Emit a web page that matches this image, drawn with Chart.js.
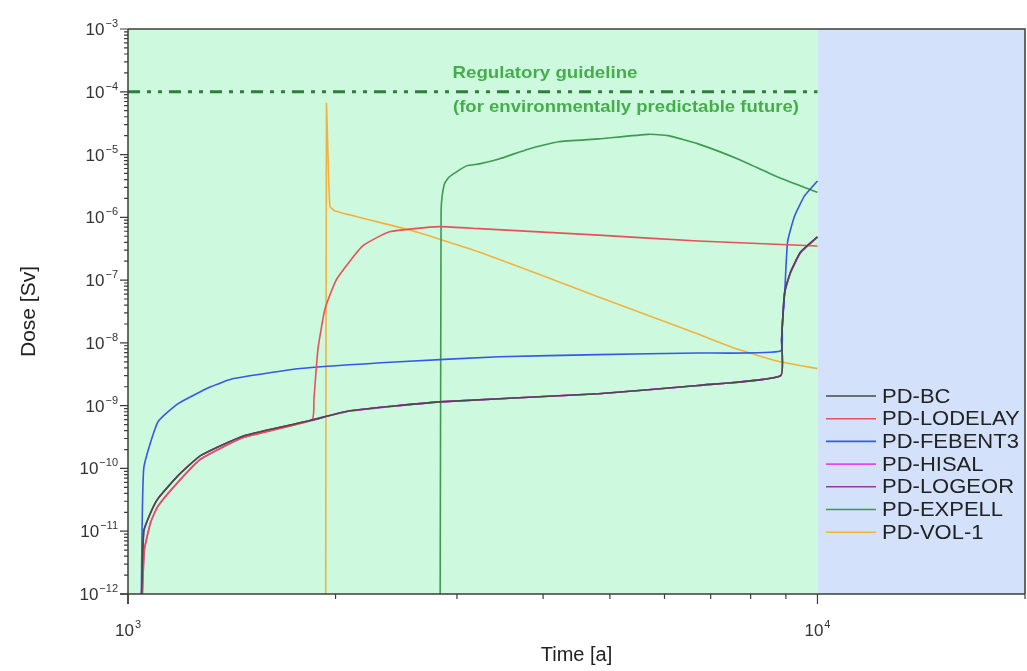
<!DOCTYPE html>
<html>
<head>
<meta charset="utf-8">
<script src="https://cdn.jsdelivr.net/npm/chart.js@4/dist/chart.umd.min.js"></script>
<style>
  html, body { margin: 0; padding: 0; background: #fff; }
  #wrap { width: 1027px; height: 671px; }
</style>
</head>
<body>
<div id="wrap"><canvas id="doseChart" width="1027" height="671"></canvas></div>
<script>
// Dose curves (time in years, dose in Sv)
const bcTime = [1045, 1054, 1079, 1105, 1181, 1274, 1470, 1837, 2098, 2830, 4814, 6711, 8843, 8872, 8965, 9142, 9452, 10000];
const bcDose = [5e-13, 1e-11, 2e-11, 3.3e-11, 7.6e-11, 1.6e-10, 3.3e-10, 5.8e-10, 8.3e-10, 1.15e-9, 1.55e-9, 2.1e-9, 3e-9, 1.15e-8, 6.5e-8, 1.35e-7, 2.8e-7, 4.9e-7];

const lodelayTime = [1047, 1056, 1079, 1105, 1181, 1274, 1470, 1849, 1861, 1886, 1931, 2009, 2190, 2396, 2829, 3232, 4814, 6711, 10000];
const lodelayDose = [5e-13, 5e-12, 1.4e-11, 2.5e-11, 6e-11, 1.4e-10, 3.1e-10, 6e-10, 1.3e-9, 8e-9, 3.5e-8, 1.05e-7, 3.5e-7, 5.9e-7, 7.1e-7, 6.6e-7, 5.2e-7, 4.2e-7, 3.5e-7];

const febent3Time = [1045, 1054, 1105, 1181, 1318, 1422, 1777, 2477, 3452, 4814, 6711, 8843, 8890, 8965, 9051, 9265, 9577, 10000];
const febent3Dose = [5e-13, 1e-10, 5.5e-10, 1.07e-9, 2e-9, 2.7e-9, 3.9e-9, 5e-9, 6e-9, 6.5e-9, 6.9e-9, 7.4e-9, 1.8e-8, 6.5e-8, 4.1e-7, 1.05e-6, 2.2e-6, 3.8e-6];

const hisalTime = [1047, 1056, 1079, 1105, 1181, 1274, 1470, 1837, 2098, 2830, 4814, 6711, 8843, 8872, 8965, 9142, 9452, 10000];
const hisalDose = [5e-13, 5e-12, 1.4e-11, 2.5e-11, 6e-11, 1.4e-10, 3.1e-10, 5.7e-10, 8.2e-10, 1.15e-9, 1.55e-9, 2.1e-9, 3e-9, 1.1e-8, 6.3e-8, 1.3e-7, 2.7e-7, 4.8e-7];

const logeorTime = [1045, 1054, 1079, 1105, 1181, 1274, 1470, 1837, 2098, 2830, 4814, 6711, 8843, 8872, 8965, 9142, 9452, 10000];
const logeorDose = [5e-13, 1e-11, 2e-11, 3.3e-11, 7.6e-11, 1.6e-10, 3.3e-10, 5.8e-10, 8.3e-10, 1.15e-9, 1.55e-9, 2.1e-9, 3e-9, 1.15e-8, 6.5e-8, 1.35e-7, 2.8e-7, 4.9e-7];

const expellTime = [2835, 2845, 2850, 2877, 2924, 3095, 3232, 3452, 3815, 4215, 4814, 5684, 6074, 6711, 7667, 8755, 10000];
const expellDose = [1e-13, 1e-6, 1.8e-6, 3.4e-6, 4.4e-6, 6.6e-6, 7.1e-6, 8.5e-6, 1.23e-5, 1.6e-5, 1.78e-5, 2.1e-5, 2.0e-5, 1.48e-5, 8.5e-6, 4.4e-6, 2.5e-6];

const vol1Time = [1935, 1940, 1950, 1963, 1996, 2586, 3232, 4814, 6711, 7667, 8755, 10000];
const vol1Dose = [1e-13, 6.4e-5, 1e-5, 1.5e-6, 1.26e-6, 6.1e-7, 2.8e-7, 5.4e-8, 1.38e-8, 7.9e-9, 5.1e-9, 3.9e-9];

// regulatory guideline
const guideTime = [1000, 10000];
const guideDose = [1e-4, 1e-4];

const seriesNames = ['PD-BC', 'PD-LODELAY', 'PD-FEBENT3', 'PD-HISAL', 'PD-LOGEOR', 'PD-EXPELL', 'PD-VOL-1'];
const seriesColors = ['#4a4a4a', '#e8505a', '#3658e6', '#e448ee', '#8c3c9c', '#3f9a4f', '#f2b23e'];

// axis ticks: every 1..9 x 10^n
const yTickValues = [];
for (let e = -12; e <= -3; e++) {
  for (let m = 1; m <= 9; m++) {
    if (e === -3 && m > 1) break;
    yTickValues.push(m * Math.pow(10, e));
  }
}
const xTickValues = [1000, 2000, 3000, 4000, 5000, 6000, 7000, 8000, 9000, 10000, 20000];

// exponent of a power of ten, or null
function powExp(v) {
  const e = Math.log10(v);
  return Math.abs(e - Math.round(e)) < 1e-9 ? Math.round(e) : null;
}

function toPoints(t, d) {
  return t.map((x, i) => ({ x: x, y: d[i] }));
}

const FONT = '"Liberation Sans", Arial, sans-serif';

// green / blue background bands
const bandsPlugin = {
  id: 'bands',
  beforeDatasetsDraw(chart) {
    const { ctx, chartArea, scales } = chart;
    const x0 = scales.x.getPixelForValue(1000);
    const x1 = scales.x.getPixelForValue(10000);
    ctx.save();
    ctx.fillStyle = 'rgb(205,250,222)';
    ctx.fillRect(x0, chartArea.top, x1 - x0, chartArea.bottom - chartArea.top);
    ctx.fillStyle = 'rgb(211,226,250)';
    ctx.fillRect(x1, chartArea.top, chartArea.right - x1, chartArea.bottom - chartArea.top);
    ctx.restore();
  }
};

// draws "10" with a raised exponent; anchor is right edge (y axis) or centre (x axis)
function drawPow(ctx, exp, x, y, align) {
  const base = '10';
  const sup = String(exp).replace('-', '\u2212');
  ctx.font = '17px ' + FONT;
  const wb = ctx.measureText(base).width;
  ctx.font = '11px ' + FONT;
  const ws = ctx.measureText(sup).width;
  const left = align === 'right' ? x - wb - ws - 1 : x - (wb + ws + 1) / 2;
  ctx.textAlign = 'left';
  ctx.textBaseline = 'alphabetic';
  ctx.font = '17px ' + FONT;
  ctx.fillText(base, left, y + 6);
  ctx.font = '11px ' + FONT;
  ctx.fillText(sup, left + wb + 1, y - 2);
}

// text stretched a little in x, as in the original figure
function wideText(ctx, text, x, y, sx) {
  ctx.save();
  ctx.translate(x, y);
  ctx.scale(sx, 1);
  ctx.fillText(text, 0, 0);
  ctx.restore();
}

// frame, tick marks, tick labels, guideline text and legend
const decorPlugin = {
  id: 'decor',
  afterDraw(chart) {
    const { ctx, chartArea, scales } = chart;
    const { left, right, top, bottom } = chartArea;
    ctx.save();
    ctx.strokeStyle = '#3a3f3a';
    ctx.lineWidth = 1.5;
    ctx.beginPath();
    ctx.moveTo(left, top); ctx.lineTo(right, top); ctx.lineTo(right, bottom);
    ctx.moveTo(left, top); ctx.lineTo(left, bottom + 10);
    ctx.moveTo(left - 8, bottom); ctx.lineTo(right, bottom);
    ctx.stroke();

    ctx.lineWidth = 1.2;
    ctx.beginPath();
    yTickValues.forEach(v => {
      const y = scales.y.getPixelForValue(v);
      const len = powExp(v) !== null ? 8 : 4;
      ctx.moveTo(left - len, y); ctx.lineTo(left, y);
    });
    xTickValues.forEach(v => {
      const x = scales.x.getPixelForValue(v);
      const len = powExp(v) !== null && v < 20000 ? 10 : 5;
      ctx.moveTo(x, bottom); ctx.lineTo(x, bottom + len);
    });
    ctx.stroke();

    // tick labels
    ctx.fillStyle = '#333';
    yTickValues.forEach(v => {
      const e = powExp(v);
      if (e === null) return;
      drawPow(ctx, e, left - 10, scales.y.getPixelForValue(v), 'right');
    });
    [1000, 10000].forEach(v => {
      drawPow(ctx, powExp(v), scales.x.getPixelForValue(v), bottom + 36, 'center');
    });

    // guideline labels
    const gy = scales.y.getPixelForValue(guideDose[0]);
    ctx.fillStyle = '#46ad4c';
    ctx.font = 'bold 17px ' + FONT;
    ctx.textAlign = 'center';
    ctx.textBaseline = 'middle';
    wideText(ctx, 'Regulatory guideline', 545, gy - 18, 1.1);
    wideText(ctx, '(for environmentally predictable future)', 626, gy + 16, 1.09);

    // legend
    ctx.font = '20px ' + FONT;
    ctx.textAlign = 'left';
    ctx.fillStyle = '#222';
    ctx.lineWidth = 1.6;
    seriesNames.forEach((name, i) => {
      const y = 396 + i * 22.7;
      ctx.strokeStyle = seriesColors[i];
      ctx.beginPath();
      ctx.moveTo(826, y); ctx.lineTo(876, y);
      ctx.stroke();
      wideText(ctx, name, 882, y + 1, 1.1);
    });
    ctx.restore();
  }
};

const seriesTimes = [bcTime, lodelayTime, febent3Time, hisalTime, logeorTime, expellTime, vol1Time];
const seriesDoses = [bcDose, lodelayDose, febent3Dose, hisalDose, logeorDose, expellDose, vol1Dose];

const datasets = seriesNames.map((name, i) => ({
  label: name,
  data: toPoints(seriesTimes[i], seriesDoses[i]),
  borderColor: seriesColors[i],
  borderWidth: 1.6,
  pointRadius: 0,
  fill: false,
  tension: 0.15
}));

datasets.push({
  label: 'Regulatory guideline',
  data: toPoints(guideTime, guideDose),
  borderColor: '#2f7d3b',
  borderWidth: 3,
  borderDash: [12, 7, 4, 7, 4, 7],
  pointRadius: 0,
  fill: false
});

new Chart(document.getElementById('doseChart'), {
  type: 'line',
  data: { datasets: datasets },
  plugins: [bandsPlugin, decorPlugin],
  options: {
    responsive: false,
    animation: false,
    layout: { padding: { left: 0, right: 2, top: 29, bottom: 0 } },
    plugins: {
      legend: { display: false },
      tooltip: { enabled: false }
    },
    scales: {
      x: {
        type: 'logarithmic',
        min: 1000,
        max: 20000,
        afterFit: scale => { scale.height = 77; },
        ticks: { display: false },
        grid: { display: false, drawTicks: false },
        border: { display: false },
        title: {
          display: true,
          text: 'Time [a]',
          color: '#222',
          font: { family: FONT, size: 20 },
          padding: { top: 0, bottom: 4 }
        }
      },
      y: {
        type: 'logarithmic',
        min: 1e-12,
        max: 1e-3,
        afterFit: scale => { scale.width = 128; },
        ticks: { display: false },
        grid: { display: false, drawTicks: false },
        border: { display: false },
        title: {
          display: true,
          text: 'Dose [Sv]',
          color: '#222',
          font: { family: FONT, size: 21 },
          padding: { top: 17, bottom: 0 }
        }
      }
    }
  }
});
</script>
</body>
</html>
